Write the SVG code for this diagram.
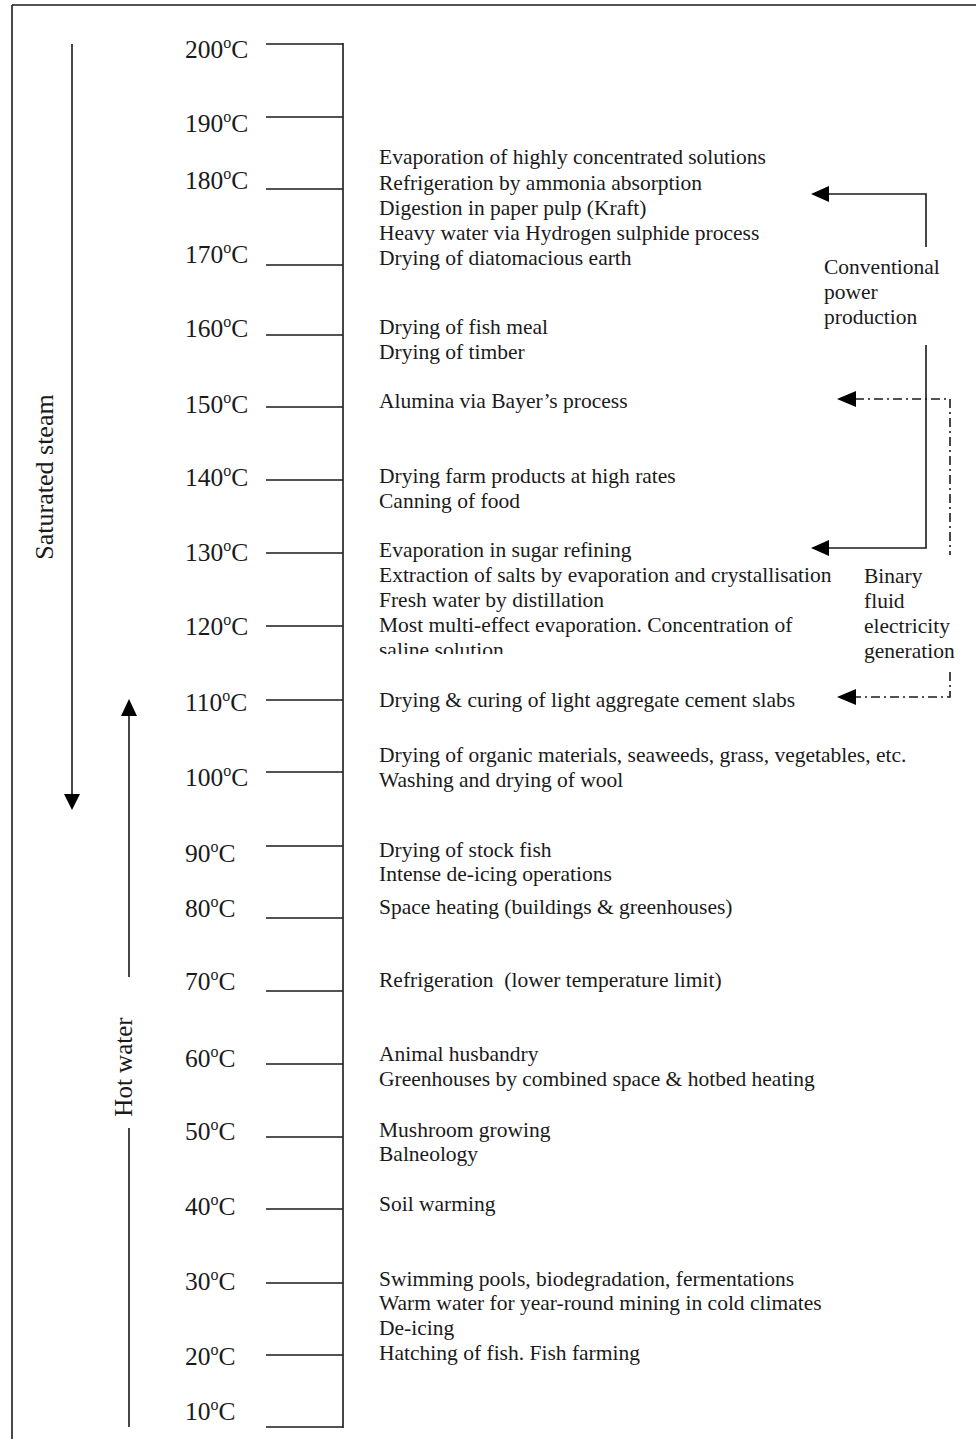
<svg xmlns="http://www.w3.org/2000/svg" width="976" height="1439" viewBox="0 0 976 1439">
<style>
.t{font-family:"Liberation Serif","Times New Roman",serif;font-size:21.5px;fill:#1a1a1a}
.tmp{font-family:"Liberation Serif","Times New Roman",serif;font-size:25.5px;fill:#1a1a1a}
.sup{font-size:16px}
.ln{stroke:#1a1a1a;stroke-width:1.6;fill:none}
.tk{stroke:#1a1a1a;stroke-width:1.6}
.dd{stroke:#1a1a1a;stroke-width:1.6;fill:none;stroke-dasharray:9 4 2 4}
.ah{fill:#000}
</style>
<defs>
<clipPath id="clipSaline"><rect x="370" y="640" width="450" height="14"/></clipPath>
</defs>
<rect width="976" height="1439" fill="#fff"/>
<g id="frame">
<line class="ln" x1="12" y1="5" x2="976" y2="5"/>
<line class="ln" x1="12" y1="5" x2="12" y2="1439"/>
</g>
<g id="scale">
<line class="ln" x1="343" y1="43" x2="343" y2="1428"/>
<line class="tk" x1="266" y1="44" x2="343" y2="44"/>
<line class="tk" x1="266" y1="117" x2="343" y2="117"/>
<line class="tk" x1="266" y1="189" x2="343" y2="189"/>
<line class="tk" x1="266" y1="265" x2="343" y2="265"/>
<line class="tk" x1="266" y1="335" x2="343" y2="335"/>
<line class="tk" x1="266" y1="407" x2="343" y2="407" stroke="#666"/>
<line class="tk" x1="266" y1="480" x2="343" y2="480"/>
<line class="tk" x1="266" y1="553" x2="343" y2="553"/>
<line class="tk" x1="266" y1="626" x2="343" y2="626"/>
<line class="tk" x1="266" y1="700" x2="343" y2="700"/>
<line class="tk" x1="266" y1="772" x2="343" y2="772"/>
<line class="tk" x1="266" y1="846" x2="343" y2="846" stroke="#666"/>
<line class="tk" x1="266" y1="918" x2="343" y2="918"/>
<line class="tk" x1="266" y1="991" x2="343" y2="991"/>
<line class="tk" x1="266" y1="1064" x2="343" y2="1064"/>
<line class="tk" x1="266" y1="1137" x2="343" y2="1137"/>
<line class="tk" x1="266" y1="1209" x2="343" y2="1209"/>
<line class="tk" x1="266" y1="1283" x2="343" y2="1283"/>
<line class="tk" x1="266" y1="1355" x2="343" y2="1355"/>
<line class="tk" x1="266" y1="1427" x2="343" y2="1427"/>
</g>
<g id="temps">
<text class="tmp" x="185" y="58">200<tspan class="sup" dy="-10">o</tspan><tspan dy="10">C</tspan></text>
<text class="tmp" x="185" y="132">190<tspan class="sup" dy="-10">o</tspan><tspan dy="10">C</tspan></text>
<text class="tmp" x="185" y="189">180<tspan class="sup" dy="-10">o</tspan><tspan dy="10">C</tspan></text>
<text class="tmp" x="185" y="263">170<tspan class="sup" dy="-10">o</tspan><tspan dy="10">C</tspan></text>
<text class="tmp" x="185" y="337">160<tspan class="sup" dy="-10">o</tspan><tspan dy="10">C</tspan></text>
<text class="tmp" x="185" y="413">150<tspan class="sup" dy="-10">o</tspan><tspan dy="10">C</tspan></text>
<text class="tmp" x="185" y="486">140<tspan class="sup" dy="-10">o</tspan><tspan dy="10">C</tspan></text>
<text class="tmp" x="185" y="561">130<tspan class="sup" dy="-10">o</tspan><tspan dy="10">C</tspan></text>
<text class="tmp" x="185" y="635">120<tspan class="sup" dy="-10">o</tspan><tspan dy="10">C</tspan></text>
<text class="tmp" x="185" y="711">110<tspan class="sup" dy="-10">o</tspan><tspan dy="10">C</tspan></text>
<text class="tmp" x="185" y="786">100<tspan class="sup" dy="-10">o</tspan><tspan dy="10">C</tspan></text>
<text class="tmp" x="185" y="862">90<tspan class="sup" dy="-10">o</tspan><tspan dy="10">C</tspan></text>
<text class="tmp" x="185" y="917">80<tspan class="sup" dy="-10">o</tspan><tspan dy="10">C</tspan></text>
<text class="tmp" x="185" y="990">70<tspan class="sup" dy="-10">o</tspan><tspan dy="10">C</tspan></text>
<text class="tmp" x="185" y="1067">60<tspan class="sup" dy="-10">o</tspan><tspan dy="10">C</tspan></text>
<text class="tmp" x="185" y="1140">50<tspan class="sup" dy="-10">o</tspan><tspan dy="10">C</tspan></text>
<text class="tmp" x="185" y="1215">40<tspan class="sup" dy="-10">o</tspan><tspan dy="10">C</tspan></text>
<text class="tmp" x="185" y="1290">30<tspan class="sup" dy="-10">o</tspan><tspan dy="10">C</tspan></text>
<text class="tmp" x="185" y="1365">20<tspan class="sup" dy="-10">o</tspan><tspan dy="10">C</tspan></text>
<text class="tmp" x="185" y="1420">10<tspan class="sup" dy="-10">o</tspan><tspan dy="10">C</tspan></text>
</g>
<g id="uses">
<text class="t" x="379" y="164">Evaporation of highly concentrated solutions</text>
<text class="t" x="379" y="190">Refrigeration by ammonia absorption</text>
<text class="t" x="379" y="215">Digestion in paper pulp (Kraft)</text>
<text class="t" x="379" y="240">Heavy water via Hydrogen sulphide process</text>
<text class="t" x="379" y="265">Drying of diatomacious earth</text>
<text class="t" x="379" y="334">Drying of fish meal</text>
<text class="t" x="379" y="359">Drying of timber</text>
<text class="t" x="379" y="408">Alumina via Bayer’s process</text>
<text class="t" x="379" y="483">Drying farm products at high rates</text>
<text class="t" x="379" y="508">Canning of food</text>
<text class="t" x="379" y="557">Evaporation in sugar refining</text>
<text class="t" x="379" y="582">Extraction of salts by evaporation and crystallisation</text>
<text class="t" x="379" y="607">Fresh water by distillation</text>
<text class="t" x="379" y="632">Most multi-effect evaporation. Concentration of</text>
<text class="t" x="379" y="657" clip-path="url(#clipSaline)">saline solution</text>
<text class="t" x="379" y="707">Drying &amp; curing of light aggregate cement slabs</text>
<text class="t" x="379" y="762">Drying of organic materials, seaweeds, grass, vegetables, etc.</text>
<text class="t" x="379" y="787">Washing and drying of wool</text>
<text class="t" x="379" y="857">Drying of stock fish</text>
<text class="t" x="379" y="881">Intense de-icing operations</text>
<text class="t" x="379" y="914">Space heating (buildings &amp; greenhouses)</text>
<text class="t" x="379" y="987" xml:space="preserve">Refrigeration  (lower temperature limit)</text>
<text class="t" x="379" y="1061">Animal husbandry</text>
<text class="t" x="379" y="1086">Greenhouses by combined space &amp; hotbed heating</text>
<text class="t" x="379" y="1137">Mushroom growing</text>
<text class="t" x="379" y="1161">Balneology</text>
<text class="t" x="379" y="1211">Soil warming</text>
<text class="t" x="379" y="1286">Swimming pools, biodegradation, fermentations</text>
<text class="t" x="379" y="1310">Warm water for year-round mining in cold climates</text>
<text class="t" x="379" y="1335">De-icing</text>
<text class="t" x="379" y="1360">Hatching of fish. Fish farming</text>
</g>
<g id="steam">
<text class="t" style="font-size:26px" text-anchor="middle" transform="translate(53,477) rotate(-90)">Saturated steam</text>
</g>
<g id="hotwater">
<text class="t" style="font-size:25px" text-anchor="middle" transform="translate(132,1067) rotate(-90)">Hot water</text>
</g>
<g id="conventional">
<text class="t" x="824" y="274">Conventional</text>
<text class="t" x="824" y="299">power</text>
<text class="t" x="824" y="324">production</text>
</g>
<g id="binary">
<text class="t" x="864" y="583">Binary</text>
<text class="t" x="864" y="608">fluid</text>
<text class="t" x="864" y="633">electricity</text>
<text class="t" x="864" y="658">generation</text>
</g>
<g id="connectors">
<line class="ln" x1="72" y1="44" x2="72" y2="795"/>
<polygon class="ah" points="64,794 80,794 72,810"/>
<line class="ln" x1="129" y1="715" x2="129" y2="977"/>
<polygon class="ah" points="121,716 137,716 129,699"/>
<line class="ln" x1="129" y1="1128" x2="129" y2="1427"/>
<polyline class="ln" points="926,247 926,194 827,194"/>
<polygon class="ah" points="829,186 829,202 811,194"/>
<polyline class="ln" points="926,345 926,548 827,548"/>
<polygon class="ah" points="829,540 829,556 811,548"/>
<polyline class="dd" points="855,399 950,399 950,555"/>
<polygon class="ah" points="856,391 856,407 837,399"/>
<polyline class="dd" points="950,672 950,697 855,697"/>
<polygon class="ah" points="856,689 856,705 837,697"/>
</g>
</svg>
